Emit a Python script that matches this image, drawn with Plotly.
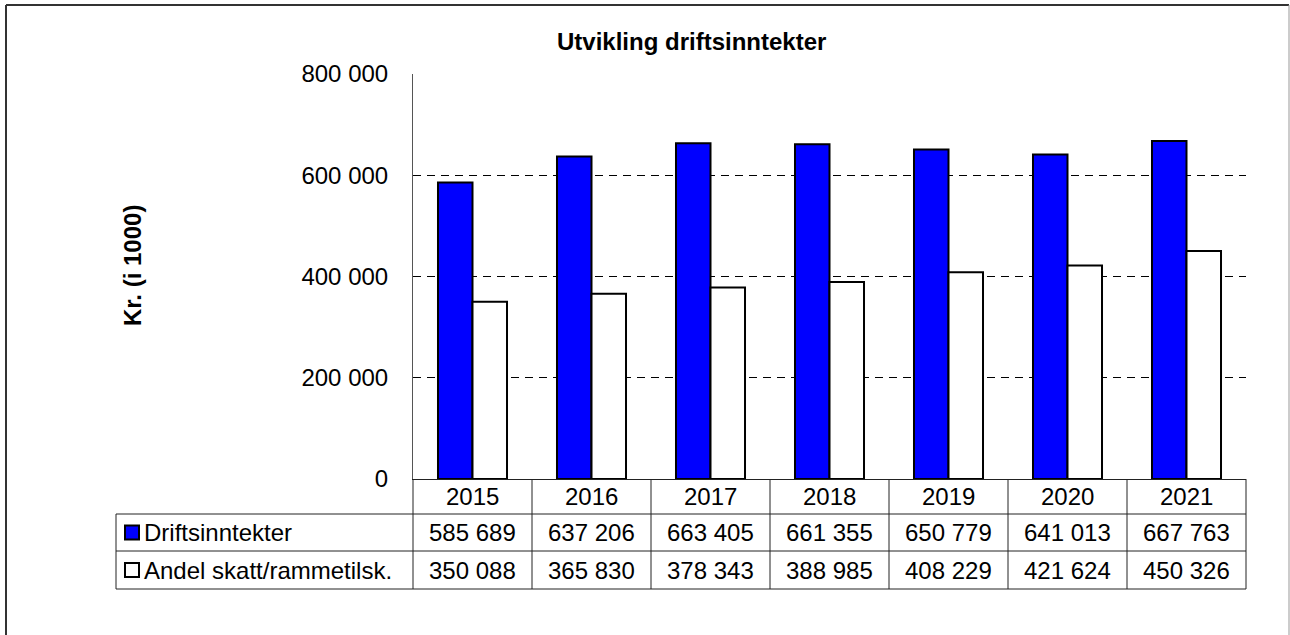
import plotly.graph_objects as go

# Data
years = ['2015', '2016', '2017', '2018', '2019', '2020', '2021']
driftsinntekter = [585689, 637206, 663405, 661355, 650779, 641013, 667763]
andel_skatt = [350088, 365830, 378343, 388985, 408229, 421624, 450326]
series_names = ['Driftsinntekter', 'Andel skatt/rammetilsk.']
y_ticks = [0, 200000, 400000, 600000, 800000]

W, H = 1290, 635
FONT = 'Liberation Sans, Arial, sans-serif'
FS = 24
BLUE = '#0000FF'


def px(x):
    return x / W


def py(y):
    return 1 - y / H


def fmt(v):
    return '{:,}'.format(v).replace(',', ' ')


fig = go.Figure()

fig.add_trace(go.Bar(
    name=series_names[0],
    x=years, y=driftsinntekter,
    marker=dict(color=BLUE, line=dict(color='black', width=2)),
))
fig.add_trace(go.Bar(
    name=series_names[1],
    x=years, y=andel_skatt,
    marker=dict(color='white', line=dict(color='black', width=2)),
))

# Plot area in pixels
x_left, x_right = 413, 1246
y_top, y_zero = 74, 479
row_bottoms = [514, 551, 589]
table_left = 116
col_w = (x_right - x_left) / len(years)

fig.update_layout(
    width=W, height=H,
    margin=dict(l=0, r=0, t=0, b=0, autoexpand=False),
    paper_bgcolor='white',
    plot_bgcolor='white',
    barmode='group',
    bargap=0.42,
    bargroupgap=0,
    showlegend=False,
    separators=', ',
    font=dict(family=FONT, size=FS, color='black'),
)

fig.update_xaxes(
    type='category',
    categoryorder='array', categoryarray=years,
    domain=[px(x_left), px(x_right)],
    automargin=False,
    showticklabels=False,
    showgrid=False,
    zeroline=False,
    showline=True, linecolor='#222', linewidth=1,
    ticks='',
)
fig.update_yaxes(
    domain=[py(y_zero), py(y_top)],
    automargin=False,
    range=[0, 800000],
    tickvals=y_ticks,
    tickformat=',d',
    showgrid=True, gridcolor='black', gridwidth=1, griddash='8px,6px',
    zeroline=False,
    showline=True, linecolor='#555', linewidth=1,
    ticks='',
    ticklabelstandoff=19,
    tickfont=dict(size=FS),
)

shapes = []
line_col = '#222'

# Horizontal table lines
for yb in row_bottoms:
    shapes.append(dict(type='line', xref='paper', yref='paper',
                       x0=px(table_left), x1=px(x_right), y0=py(yb), y1=py(yb),
                       line=dict(color=line_col, width=1)))
# Vertical table lines (column boundaries)
for i in range(len(years) + 1):
    xb = px(x_left + i * col_w)
    shapes.append(dict(type='line', xref='paper', yref='paper',
                       x0=xb, x1=xb, y0=py(y_zero), y1=py(row_bottoms[-1]),
                       line=dict(color=line_col, width=1)))
# Left edge of the series label column
shapes.append(dict(type='line', xref='paper', yref='paper',
                   x0=px(table_left), x1=px(table_left),
                   y0=py(row_bottoms[0]), y1=py(row_bottoms[-1]),
                   line=dict(color=line_col, width=1)))

# Legend keys in the table
key_colors = [BLUE, 'white']
for k, (yt, yb) in enumerate(zip(row_bottoms[:-1], row_bottoms[1:])):
    yc = (yt + yb) / 2
    shapes.append(dict(type='rect', xref='paper', yref='paper',
                       x0=px(125), x1=px(139), y0=py(yc + 7), y1=py(yc - 7),
                       fillcolor=key_colors[k], line=dict(color='black', width=2)))

# Outer chart frame
shapes.append(dict(type='line', xref='paper', yref='paper',
                   x0=px(6), x1=px(1289), y0=py(5), y1=py(5),
                   line=dict(color='#333', width=2)))
shapes.append(dict(type='line', xref='paper', yref='paper',
                   x0=px(6), x1=px(6), y0=py(5), y1=py(H + 10),
                   line=dict(color='#333', width=2)))
shapes.append(dict(type='line', xref='paper', yref='paper',
                   x0=px(1289), x1=px(1289), y0=py(5), y1=py(H + 10),
                   line=dict(color='#999', width=1)))

fig.update_layout(shapes=shapes)

annotations = []
# Title
annotations.append(dict(x=px(691), y=py(42), xref='paper', yref='paper',
                        text='<b>Utvikling driftsinntekter</b>', showarrow=False,
                        xanchor='center', yanchor='middle', font=dict(size=FS)))
# Y axis title
annotations.append(dict(x=px(132), y=py(266), xref='paper', yref='paper',
                        text='<b>Kr. (i 1000)</b>', textangle=-90, showarrow=False,
                        xanchor='center', yanchor='middle', font=dict(size=FS)))
# Year header row
for i, yr in enumerate(years):
    annotations.append(dict(x=px(x_left + (i + 0.5) * col_w),
                            y=py((y_zero + row_bottoms[0]) / 2),
                            xref='paper', yref='paper', text=yr, showarrow=False,
                            xanchor='center', yanchor='middle', font=dict(size=FS)))
# Data rows
for k, vals in enumerate([driftsinntekter, andel_skatt]):
    yc = (row_bottoms[k] + row_bottoms[k + 1]) / 2
    annotations.append(dict(x=px(142), y=py(yc), xref='paper', yref='paper',
                            text=series_names[k], xanchor='left', yanchor='middle',
                            showarrow=False, font=dict(size=FS)))
    for i, v in enumerate(vals):
        annotations.append(dict(x=px(x_left + (i + 0.5) * col_w), y=py(yc),
                                xref='paper', yref='paper',
                                text=fmt(v), showarrow=False,
                                xanchor='center', yanchor='middle',
                                font=dict(size=FS)))

fig.update_layout(annotations=annotations)

fig.write_html(
    'out.html',
    config={'displayModeBar': False},
    post_script=(
        "var gd=document.getElementById('{plot_id}');"
        "document.body.style.margin='0';document.body.style.overflow='hidden';"
        "gd.style.position='fixed';gd.style.top='0';gd.style.left='0';"
    ),
)
